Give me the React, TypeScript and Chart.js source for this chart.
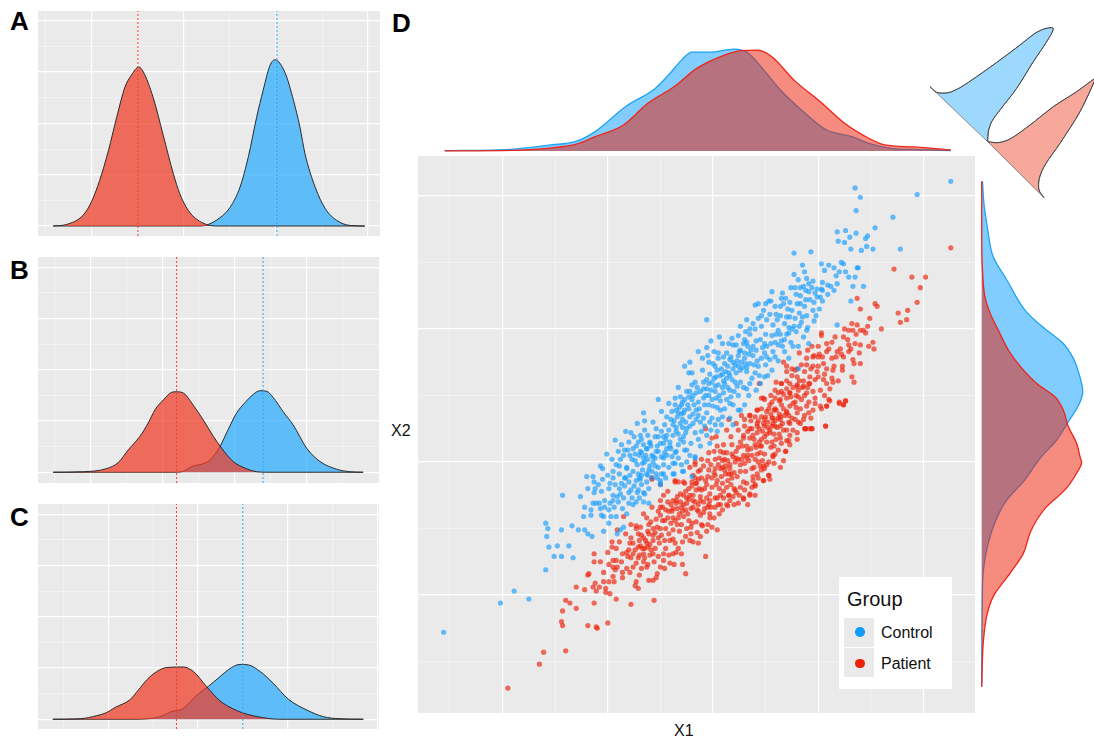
import React, { useEffect, useRef } from "react";
import { Chart, registerables } from "chart.js";

Chart.register(...registerables);

type P = [number, number];

// Panels A, B, C: density curves as [value, density]
const aPatient: P[] = [[-2.84,0],[-2.55,.003],[-2.19,.021],[-2.01,.047],[-1.83,.089],[-1.64,.147],[-1.46,.212],[-1.28,.271],[-1.14,.294],[-.98,.31],[-.88,.3],[-.67,.251],[-.45,.177],[-.23,.102],[-.09,.063],[.09,.031],[.28,.013],[.49,.003],[.71,0],[3.93,0]];
const aControl: P[] = [[-2.84,0],[.35,0],[.53,.003],[.78,.016],[1,.036],[1.22,.076],[1.4,.135],[1.58,.212],[1.72,.264],[1.87,.313],[1.98,.324],[2.2,.298],[2.38,.245],[2.52,.193],[2.63,.141],[2.85,.076],[3.07,.034],[3.32,.011],[3.61,.001],[3.93,0]];
const bPatient: P[] = [[-3.03,0],[-2.19,.001],[-1.55,.007],[-1.22,.019],[-.94,.044],[-.62,.07],[-.39,.096],[-.2,.122],[.03,.141],[.26,.156],[.4,.157],[.6,.154],[.86,.131],[1.14,.102],[1.42,.07],[1.65,.047],[1.97,.021],[2.3,.008],[2.62,.001],[2.9,0],[5.58,0]];
const bControl: P[] = [[-3.03,0],[.4,0],[.63,.003],[.81,.011],[1,.014],[1.19,.018],[1.37,.027],[1.6,.05],[1.83,.083],[2.06,.115],[2.3,.136],[2.53,.152],[2.71,.159],[2.9,.158],[3.08,.146],[3.36,.118],[3.64,.092],[4.01,.047],[4.38,.021],[4.84,.006],[5.21,.001],[5.58,0]];
const cPatient: P[] = [[-1.24,0],[-.63,.001],[-.26,.007],[-.04,.013],[.15,.023],[.48,.038],[.67,.057],[.86,.077],[1.08,.093],[1.3,.101],[1.67,.102],[1.9,.093],[2.19,.064],[2.49,.036],[2.79,.02],[3.09,.01],[3.46,.003],[3.83,0],[5.69,0]];
const cControl: P[] = [[-1.24,0],[.56,0],[1.15,.005],[1.41,.015],[1.67,.021],[1.97,.047],[2.23,.064],[2.49,.083],[2.75,.101],[2.94,.107],[3.13,.106],[3.39,.093],[3.68,.07],[4.02,.039],[4.43,.018],[4.8,.005],[5.17,.001],[5.69,0]];

const meansA = { patient: -1, control: 2.02 };
const meansB = { patient: 0.4, control: 2.8 };
const meansC = { patient: 1.52, control: 3.0 };

const aMajorX = [-2, 0, 2, 4];
const aMinorX = [-3, -1, 1, 3];
const bMajorX = [-2, 0, 2, 4];
const bMinorX = [-3, -1, 1, 3, 5];
const cMajorX = [0, 2, 4, 6];
const cMinorX = [-1, 1, 3, 5];
const densMajorY = [0, 0.1, 0.2, 0.3, 0.4];
const densMinorY = [0.05, 0.15, 0.25, 0.35];

// Panel D: marginal densities
const topControl: P[] = [[-25.5,.0002],[-19.2,.0008],[-15.4,.003],[-13.1,.0046],[-11.2,.0096],[-8.3,.022],[-5.5,.031],[-4.1,.0384],[-3,.045],[-2,.049],[-.3,.049],[2,.0505],[3.3,.0487],[4.7,.0409],[6.4,.0302],[8.95,.0178],[10.8,.0104],[13.2,.0071],[14.8,.0038],[16.9,.0013],[19.5,.0007],[22.6,.0002]];
const topPatient: P[] = [[-25.5,0],[-19.2,.0003],[-15.8,.0013],[-12.9,.0035],[-11.2,.0071],[-8.5,.0129],[-6.2,.0236],[-3.7,.0318],[-1.55,.0409],[.55,.0464],[2.65,.0497],[4.3,.05],[5.6,.0467],[7.7,.0351],[10.2,.0244],[12.5,.0137],[14.8,.0063],[16.3,.003],[19,.002],[22.6,.0005]];
// [density, X2]
const rightControl: P[] = [[.0003,21.1],[.0009,19.4],[.0022,17.7],[.0046,15.4],[.0099,13.7],[.0172,11.4],[.0238,10.2],[.0323,8.9],[.036,7.9],[.0389,6.4],[.04,5.3],[.0387,4.4],[.0339,2.9],[.0297,1.65],[.0231,.28],[.0165,-1.48],[.0099,-2.86],[.0059,-4.24],[.0026,-6.1],[.0007,-8.1],[.0003,-9.4],[0,-16.9]];
const rightPatient: P[] = [[0,21.1],[0,16.9],[.0003,14.4],[.0013,12.4],[.0033,11.2],[.0066,9.9],[.0106,8.4],[.0152,7.2],[.0218,5.9],[.029,4.9],[.0323,3.9],[.0343,2.66],[.0376,1.4],[.0393,.15],[.0396,0],[.0376,-.85],[.033,-2.1],[.0257,-3.36],[.0218,-4.36],[.0191,-5.36],[.0165,-6.87],[.0112,-8.37],[.0046,-10.1],[.0022,-11.4],[.0007,-13.4],[0,-16.9]];

// Corner shapes at the top right of panel D
const cornerControl: P[] = [[3,35.5],[5,33.8],[8.5,33.7],[12,35.2],[17,38.5],[24,43.5],[30,48],[34.5,51.5],[37.5,52.9],[40,53],[38,49],[34,43],[29,35],[24,28.5],[21.5,25],[20.5,22],[20.3,19]];
const cornerPatient: P[] = [[20.3,19],[23.5,18.7],[27,19.8],[33,24],[40,29.5],[47,34],[52.5,38],[52.5,37.5],[48,28],[42,18.5],[37.5,12],[35.8,8],[35.7,4.5],[37.2,2.2]];

const scatterMajorX = [-20, -10, 0, 10, 20];
const scatterMinorX = [-25, -15, -5, 5, 15];
const scatterMajorY = [-10, 0, 10, 20];
const scatterMinorY = [-15, -5, 5, 15];

// Scatter: [X1, X2]
const controlPoints: P[] = [
[13.5,20.6],[14,19.9],[19.4,20.1],[22.6,21.1],[13.6,18.9],[17.1,18.4],[15.4,17.6],[11.8,17.3],[12.6,17.4],[13.6,17.2],[13,16.9],[11.9,16.6],[12.5,16.5],[14.5,16.8],[14.7,17],[14.6,16.2],[13.1,16],[14.1,15.9],[15.2,16],[17.8,16],[7.7,15.7],[9.3,15.8],[8.5,14.8],[8.7,14.3],[7.7,14.1],[10.3,14.9],[11,14.8],[10.6,14.4],[11.5,14.6],[12.2,15],[12.4,14.9],[12,14.3],[11.7,14],[12.6,14.3],[13.7,14.6],[13.8,14.6],[12.9,13.9],[13.5,13.9],[13.3,13.2],[14.3,13.2],[13.1,12.1],[11.8,10.3],
[8.1,13.7],[8.9,13.8],[9.5,13.6],[10.4,13.5],[10.9,13.3],[11.2,13.2],[11.8,13.4],[8.6,13.2],[9.1,13.4],[7.4,13.1],[7.8,13.1],[8.3,13.1],[8.8,12.9],[9.4,13.1],[9.9,13],[10.4,12.9],[9.1,12.8],[9.9,12.4],[5.6,12.8],[6.6,12.7],[5.3,12.1],[5.5,12.1],[4,11.8],[4.3,11.9],[4.8,11.4],[5.9,11.7],[6.7,11.9],[7.3,12],[8,11.9],[8.3,11.9],[9.6,12],[10.4,12.1],[8.7,11.7],[10.1,11.5],[9.5,11.4],[8.9,11],[8.2,11.2],[7.3,10.9],[6.4,11],[5.4,11.1],[4.3,10.8],[3.2,10.7],[-.6,10.7],[6.8,10.4],[7.7,10.2],[8.4,10.5],[5.7,10.3],[6.2,9.9],[7,9.6],[7.9,9.8],[8.6,9.4],[4.6,10.2],[3.5,10],[2.6,10.2],[5,9.6],[9.1,8.9],[8.1,7],
[-25.6,-12.8],[-20.2,-10.6],[-18.9,-9.7],[-17.5,-10.3],[-15.9,-8.1],[-15.1,-7.1],[-14.4,-7.1],[-13.3,-7.2],[-15.6,-6.4],[-14.8,-6.3],[-13.7,-6.3],[-15.8,-5.6],[-15.7,-5],[-15.9,-4.6],[-14.4,-5.1],[-13.4,-4.8],[-12.8,-5.1],[-12.2,-5.1],[-11.9,-5.4],[-11.5,-5.6],[-10.4,-5.2],[-14.3,-2.5],[-12.6,-2.6],[-11.9,-2],[-12.3,-4.1],[-12.2,-3.4],[-11.6,-3.6],[-11.6,-4],[-11.4,-3.1],[-11.1,-3.1],[-10.8,-3.1],[-10.7,-3.5],[-10.6,-4],[-10.4,-4.1],[-10.3,-3.4],[-9.9,-3.6],[-9.7,-4.1],[-9.9,-4.6],[-9.2,-4.1],[-8.5,-4.9],[-8.8,-5.1],[-9.1,-5.4],[-11.3,-1.5],[-11.3,-2.3],[-11.2,-2],[-10.6,-2.2],[-9.9,-2],[-11.4,-1.1],[-10.7,-.3],[-10.5,-.5],[-10,-1],[-9.5,-.7],[-9.5,-1.2],[-10.3,-2.9],[-9.8,-3.1],[-9.5,-2.9],[-9,-3],[-9.5,-2.5],[-9.1,-2.6],[-8.8,-2.4],[-8.5,-2.7],[-8,-2.3],[-8,-3.1],[-7.6,-3.2],[-7,-2.7],[-7.1,-2.1],[-6.6,-3],[-6.6,-2.3],[-6.1,-2],[-8.7,-1.6],[-8.4,-1.8],[-8,-1.5],[-8.3,-1.2],[-7.9,-1],[-7.6,-.7],[-7.3,-1.4],[-6.8,-1.7],[-7.1,-.9],[-6.7,-.6],[-6.3,-.9],[-5.8,-.7],[-5.4,-.9],[-5,-1.4],[-5,-1.7],[-4.7,-.9],[-8.8,.2],[-9.2,-.2],[-8.7,1.3],[-9.3,1.65],[-8,1.5],[-8.5,.5],[-7.9,.5],[-7.3,1.2],[-6.8,.7],[-6.3,1],[-5.7,.4],[-5.2,.8],[-4.4,.5],[-3.8,-.1],[-2.9,-.7],[-3.7,-.9],[-2.5,0],[-3.5,.8],[-2.5,.9],[-1.7,.4],[-2.8,1.5],[-4.7,1.4],[-4.1,1.2],[-6,1.4],
[-1.4,8.3],[-2.2,7.5],[-2.7,7.2],[-.4,7.5],[-1,6.9],[-2.3,6.7],[-2,6.7],[-1.7,6],[-3.3,5.6],[-2.5,5.3],[-2.2,5.3],[-5.2,4.7],[-3.6,4.8],[-3.1,4.9],[-4.2,4.4],[-3.6,4.3],[-6.6,3.7],[-4.9,3.8],[-4.4,3.4],[-6.5,3.1],[-5.7,3],[-6.5,2.4],[-5.4,2.5],[.9,8.9],[1.5,8.9],[2.4,9.5],[3.5,9.6],[5.6,9.5],[6.4,9.6],[7.2,9.7],[7.6,8.7],[8.1,8.7],[6.8,8.3],[7.2,7.8],[.5,8.2],[.5,7.8],[1.9,8.8],[2.6,8.4],[3.2,9],[3.8,8.7],[4.5,9.2],[5.1,8.7],[5.7,8.3],[5.4,7.7],[4.3,7.2],[3.5,7.4],[2.7,7.5],[1.9,7],[1.1,7.4],[.2,7.2],[.7,6.5],[1.5,6.7],[2.2,6.7],[3.2,6.8],[4,6.7],[4.6,7.8],[4.9,8.2],[6.2,8.8],[3.8,8],[3,8.2],[2.4,8],[-.1,6],[.5,5.8],[-.6,6.2],[1.1,5.9],[1.8,6.2],[2.6,6],[3.5,5.9],[4.5,5.9],[3.2,5.5],[2.4,5],[1.6,5.4],[1,5.2],[.2,5.3],[-.6,5.5],[-1.2,5.3],[-.9,4.8],[-.1,4.7],[.7,4.6],[1.3,4.7],[1.9,4.3],[3,4.3],[2.6,3.9],[1.1,4],[.7,3.9],[0,4.2],[-.8,4.3],[-1.4,4.5],[-2,4.7],[-2.7,4.7],[-3,4.3],[-2.3,4],[-1.6,3.9],[-.6,3.7],[-.1,3.3],[.5,3.2],[.2,2.8],[.8,2.8],[-.8,2.7],[-1.6,3.2],[-2.2,3.4],[-2.8,3.7],[-3.4,3.4],[-3.9,3.8],[-3.8,2.8],[-3.1,2.9],[-2.5,2.5],[-1.9,2.9],[-1.7,2.2],[-2.8,1.9],[-3.5,2.3],[-4.2,2.4],[-4.7,1.9],[-4.1,1.5],[-3.3,1.3],[-2.7,.9],[-3.6,.7],[-4.4,1],[-5,1.4],[-5.5,1.9],[-6,1.5],[-6.8,1.7],[-6.3,1],[-5.4,.8],[-4.7,.3],[-5.7,0],[-6.5,0],[-6.9,.8],[-3.6,-.1],[-4.9,-.9],[-6.1,-.6],[-6.8,-1],[-4.7,-.2],[-2.8,-.7],[-3.8,-.9],[-5,-1.6],[-2,-1.1],[-1.7,.3],[-.3,1.4],[1.9,2.8],[2.4,3.9],
[-.4,5],[.1,6.3],[-1.3,4],[-1.9,5],[1.6,7.7],[.9,5.6],[-.9,3.3],[-2.6,3],[-3.3,2.1],[-4.5,1.7],[-3.9,.4],[-5.2,-.4],[-6.2,.2],[-7.4,.1],[-6.9,-1.3],[4.1,8.4],[3.2,7.1],[2.1,6],[1.3,6.3],[.4,4.1],[-.3,3],[-1.1,2.3],[-2.1,1.4],[-3,3.6],[-1.8,4.3],[-.7,5],[5,7.3],[5.9,9],[6.8,9.2],[7.8,10.8],[8.8,12.2],[6.1,10.7],[4.9,8.9],[2.9,8.9],[3.6,8.4],
[2.1,7.3],[1.7,7.9],[2.6,6.9],[3,7.8],[1.2,6.8],[.8,7],[2.4,7.2],[3.4,8.1],[4.2,7.6],[.3,6.4],[-.3,6.6],[1,6.1],[-.9,6],[-1.5,5.6],[-2,5.8],[-.2,5.4],[.6,5],[1.4,5.6],[2,5.3],[2.9,5.6],[3.7,6.3],[4.4,6.5],[5.1,7.9],[5.5,8.9],[6.5,9.1],[-2.9,3.2],[-3.3,3.7],[-3.7,3.1],[-2.4,4.3],[-1.9,3.6],[-1.2,3],[-2.6,2.2],[-3.1,1.7],[-3.8,2],[-4.4,2],[-4.9,2.3],[-5.3,1.2],[-4,1],[-4.6,.7],[-5.8,.5],[-6.4,.5],[-7.2,-.2],[-7.7,.2],[-8.2,-.4],[-7.5,-1.8],[-7,-1.2],[-6.3,-1.5],[-5.8,-1.2],[-5.5,-.3],[-6.7,-.1],[-8.4,.9],[-9,.8],[-8.9,-.9],[-9.6,.2],[-10.1,.6],[-7.5,1.9],[-6.9,2],[-7.2,2.9],[-6.2,2],[-7.8,2.2],[-8.3,2.3],[-7,.5],[6,9.6],[7.2,10.1],[7.5,11.4],[8.5,10.9],[9,10.1],[9.8,11],[6.4,11.7],[6.9,12.3],[7.9,12.6],[9.2,12.2],[8.3,12.5],[10.3,13],[9.7,12.7],[5.1,10.7],[4.1,9.1],[3.1,9.8],[4,10],[1.8,9.3],[2.2,8.8],[.1,8.3],[-.5,8],[-1,7.8],[1.3,8.2],[0,7.4],[-9.8,-1.6],[-10.5,-1.3],[-8.9,-2],[-8.2,-.5],[-7.8,-2.1],[-7.3,-3],[-6.1,-3.1],[-9.4,-3.4],[-8.6,-3.5],[-8.2,-3.9],[-10.9,-1.7],[-12,-1.1],
[2.3,7.6],[2.8,7.1],[1.4,7.2],[1.9,7.5],[2.5,8.3],[3.1,7.4],[1.6,6.5],[.9,6.6],[.4,6.9],[3.9,7.3],[4.7,8.6],[3.3,8.7],[1,7.9],[.2,5.7],[-.4,5.9],[-.9,5.5],[-1.6,5.2],[-2.3,4.9],[-2.9,4.5],[-3.2,4.1],[-2.7,3.9],[-3.5,3.9],[-4,3.2],[-4.6,2.8],[-3.5,2.6],[-2.9,2.6],[-2.2,2.7],[-1.4,3.5],[-.4,4.3],[.3,4.8],[1.7,4.9],[1.6,4.4],[2.3,5.7],[-5.2,1.9],[-5.9,1.2],[-6.6,1.3],[-7.1,1.5],[-7.6,1],[-8.1,.9],[-7.4,.6],[-6.6,.3],[-6,-.3],[-5.5,.3],[-4.9,.4],[-4.2,-.4],[-4.5,-1.2],[-6.5,-2.4],[-7.2,-2.3],[-8.4,-1.2],[-8.9,-.3],[-9.3,-1.7],[-7.7,-2.7],[-6.2,-1],[-5.3,-1.2],[-3.3,.3],[-3,-.2],[-2.2,.5],[-1.2,1.2],[-.6,2],[.4,2.3],[.9,3.4],[1.6,3.3],[-.2,2.4],[-1.4,1.7],[3.4,5],[4.1,5.4],[4.9,6.4],[5.6,6.9],[6.2,7.6],[6.6,8.7],[7.4,9],[5.2,6.5],[5.9,7.9],[7,10.9],[7.5,10],[8.2,10.2],[8.9,9.9],[9.6,10.6],[10.2,12.4],[10.9,12.6],[11.5,12.9],[6,11.1],[6.5,12.3],[7.1,11.5],[5,11.9],[4.6,11],[3.8,10.4],[3,9.2],[.6,9.4],[-.2,9.1],[-.6,8.6]
];

const patientPoints: P[] = [
[-19.5,-17],[-16.5,-15.2],[-16.1,-14.3],[-14,-14.2],[-14.4,-12],[-14.3,-12.3],[-14.3,-11.2],[-14,-10.4],[-13.6,-10.6],[-13,-11],[-11.9,-12.3],[-11.1,-12.4],[-11,-12.5],[-10,-12.1],[-11.3,-10.6],[-9.2,-10.3],[-7.8,-10.7],[-5.6,-10.4],[-13,-9.4],[-12.2,-9.6],[-11.4,-9.4],[-11.1,-9.7],[-10.8,-9.4],[-10.2,-9.5],[-10.2,-9.8],[-9.8,-9.9],[-11.2,-9.1],[-10.4,-9],[-9.9,-9],[-9.4,-9],[-9.5,-8.6],[-11.9,-8.5],[-11.8,-8.4],[-11.3,-7.5],[-10.7,-7.5],[-11.3,-6.9],[-9.5,-7.9],[-9.3,-8.1],[-9.1,-7.9],[-8.6,-8.3],[-8.6,-8.7],[-7.9,-8.3],[-7.6,-7.9],[-7.4,-9.3],[-7.1,-9.5],[-7.3,-9],[-7,-8.5],[-6.1,-8.9],[-5.7,-8.9],[-5.3,-8.4],[-5.4,-8.7],[-4.6,-8],[-5,-7.9],[-2.9,-7.7],[-2.6,-8.4],[-3,-6.9],[-10,-6.8],[-9.6,-6],[-9.6,-6.4],[-9.2,-6.5],[-9.5,-7.4],[-9.2,-7.4],[-8.6,-6.9],[-8.2,-6.8],[-7.9,-6.1],[-7.6,-6.1],[-8.1,-7.1],[-7.8,-7.2],[-7.1,-6.4],[-7.1,-7.2],[-7.6,-6.9],[-6.8,-5.5],[-6.6,-5.7],[-6.3,-6.1],[-6.5,-6.5],[-6.6,-6.9],[-6.5,-7.2],[-6.2,-6.4],[-6.6,-7.5],[-6.8,-8],[-6.3,-7.9],[-5.7,-5.9],[-5.1,-6.1],[-5.7,-6.9],[-5.2,-7.1],[-5.6,-7.5],[-4.7,-6.9],[-4.2,-7],[-3.8,-6.9],[-7.8,-4.7],[-7.3,-4.8],[-7.3,-5],[-5.9,-4.5],[-6.1,-4.7],[-5.7,-5],[-5,-5],[-4.6,-4.4],[-4.2,-5.4],[-3.8,-5.1],[-3.8,-5.8],[-4.6,-5.9],[-4.1,-5.9],[-3.6,-6.1],[-2.6,-5.6],[-2.2,-5.9],[-1.9,-6],[-1.4,-6.1],[-8.5,-4.1],[-6.6,-3.9],[-5.2,-3.7],[-4.8,-3.4],[-5,-2.9],[-4.3,-2.2],[-3.6,-1.5],[-5.8,-1.3],[-4.2,-3.7],[-3.8,-3.5],[-3.5,-3.1],[-3,-3.4],[-2.5,-3.1],[-3.8,-4.2],[-3.3,-4.2],[-2.8,-4.1],[-2.3,-4.4],[-2,-4.6],[-2.5,-5],[-1.6,-4.5],[-1.4,-3.7],[-1.9,-3.4],[-1.2,-2.9],[-2.8,-2.5],[-2.2,-2.5],[-1.6,-2.1],[-3.3,-1.5],[-2.7,-1.6],[-2,-1.5],[-1.6,-1.6],[-2.2,-.4],[-1.7,0],[-1.9,-1],
[-.7,-7.1],[.4,-5.1],[-.1,-4.9],[-.5,-4.7],[-1.1,-4.7],[-.3,-4.2],[-.3,-3.9],[-.9,-3.8],[-1.2,-4],[-1.2,-5.6],[.2,-3.4],[-.5,-3.4],[.7,-3.2],[1.4,-3.3],[3.3,-3.2],[2.9,-2.8],[3.5,-2.4],[4,-2.5],[3.7,-1.9],[4,-1.8],[2.6,-1.9],[2.2,-2.3],[2,-2],[1.5,-2.5],[1,-2.7],[.4,-2.7],[-.3,-2.9],[-.9,-3],[4.8,-1.4],[5.4,-1.3],[5.3,-1],[4.9,-.5],[4.8,-.3],[4.2,-.9],[6.7,.1],[5.3,0],[5.7,.5],[6.9,.8],[7.3,1.3],[8,1.7],[8,2.2],[8.8,2.5],[9.4,2.5],[10.7,2.7],[7.2,1.6],[7.3,2],[8.1,3],[8.3,2.9],[9.1,3.7],[9.7,4.4],[10.3,4],[10.8,4.2],[12,4.4],[12.4,4.3],[12.6,4.6],[11.1,4.6],
[22.6,16.1],[17.2,14.5],[18.9,13.9],[20.2,13.9],[19.7,13.1],[19.4,12],[18.5,11.4],[17.6,11.2],[18.4,10.7],[17.8,10.5],[16,10],[14.9,10.8],[13.7,12.3],[14,11.5],[15.4,11.9],[15.6,11.7],[13.2,10.4],[13.7,10.3],[14.7,10.2],[14.3,9.9],[14,9.9],[14.5,9.7],[12.9,9.9],[12.5,10],[13.3,9.9],[10.3,9.7],[10.3,9.5],[12.4,9.4],[12.8,9.2],[13.5,8.9],[14,8.8],[15.2,9],[14.8,8.7],[15.3,8.5],[13.9,8.2],[13.1,8.5],[12.9,8.3],[12.4,7.9],[11.3,7.8],[11.8,8.3],[12.1,8.5],[11.3,9],[10.8,8.9],[11,8.5],[10,8.7],[9.4,8.7],[10.8,8.3],[9.6,8],[10,7.9],[13.3,7.7],[13.4,7.4],[14,7.4],[12.3,7.2],[12.3,6.9],[13.2,6.4],[13.4,6],[11.9,6.1],[11.4,6.9],[11.3,6.3],[10.5,7.4],[10,7.2],[9.9,6.8],[10.8,7],[8.9,7.8],[8.4,7.3],[8,7],[6.7,7.5],[7,7.2],[7,6.8],[7.5,6.5],[8,6.4],[8.7,6.8],[9.2,6.4],[9.7,6.2],[9.2,5.9],[10.5,6.2],[10.8,5.9],[11.4,6],[8.6,5.7],[8,5.8],[7.3,5.9],[6.5,5.9],[5.9,5.4],[6.5,5.3],[7.3,5.2],[8.1,5.4],[8.9,5.2],[9.5,5.3],[10.2,5.4],[11.1,5.5],[10.6,5],[9.7,4.8],[11,4.7],[9.1,4.5],[8.4,4.7],[7.8,4.5],[7,4.8],[6.4,4.7],[4.8,4.8],[4.4,5.9],[5.4,4.3],[5.9,4],[6.7,4],[7.3,4.2],[8.3,4],[8.9,4.2],[9.5,3.9],[10.2,4.2],[10.8,4.2],[12,4.5],[12.6,4.6],[12.4,4.3],[10.7,2.7],[9.2,2.5],[8.8,2.5],[7.8,3.2],[7,3.7],[6.4,3.4],[5.7,3.3],[5.1,3.8],[4.6,4],[4.2,3.9],[4,3.4],[3.5,3.5],[4.8,2.9],[5.6,2.7],[6.4,2.7],[7,2.4],[7.3,2.9],[4.2,2.7],[3.5,2.5],[2.9,1.8],
[7.8,6.9],[8.9,7.3],[9.5,7.2],[9.1,5.9],[8,5.7],[6.5,5.9],[7,5.5],[6.2,5.2],[5.9,4.8],[7.3,5.2],[8.1,4.9],[8.7,5],[5.6,4.5],[4.9,4.7],[4.6,4.8],[5.3,4],[6,3.9],[7,3.8],[8,3.7],[4.2,3.9],[3.5,3.5],[4.6,3.4],[5.6,3.3],[6.4,3.2],[7.2,3],[4.2,2.9],[4.9,2.7],[5.9,2.7],[6.7,2.4],[8.7,2.5],[9.4,2.5],[3.7,2.5],[3,3.2],[1.5,3.2],[2.2,2.9],[1.3,2.4],[-.7,2.5],[-.1,1.8],[.3,1.9],[2.9,2],[3.5,1.8],[4.2,2.2],[4.9,1.9],[5.6,1.5],[6.4,1.8],[2.6,1.5],[1.8,1.3],[1,1.3],[3.2,1.2],[4,1.3],[4.6,1.2],[2.2,.8],[2.9,.5],[3.7,.5],[5.7,.4],[6.9,.8],[4.3,0],[5.1,-.2],[1.3,.7],[.7,.8],[-.4,.7],[-1.1,.2],[-1.7,-.2],[.2,.2],[1.1,.2],[2.1,0],[3,-.1],[3.7,-.5],[4.6,-.6],[5.3,-1],[4.8,-1.4],[3.8,-1.1],[2.6,-.7],[1.6,-.5],[.7,-.5],[-.4,-.6],[-1.4,-.7],[-1.1,-1.2],[-.1,-1.2],[.8,-1.1],[1.8,-1.2],[2.9,-1.5],[4,-1.7],[3.5,-2.5],[2.9,-2.7],[2.1,-2.1],[1.3,-1.9],[.3,-1.7],[-.6,-1.7],[-1.6,-1.6],[-2.8,-1.5],[-3.6,-1.4],[-2.3,-2],[-3.1,-2.4],[-1.9,-2.5],[-1.2,-2.6],[-.3,-2.4],[.7,-2.5],[1.5,-2.5],[-.4,-3.2],[.5,-3.2],[1.3,-3.2],[-1.4,-3.2],[-2.5,-2.7],[-3.8,-2.9],[-4.7,-2.5],[-5,-3.4],[-5.8,-3.4],[-5.8,-1.2],[-5,-1.7],
[1.9,.4],[2.4,1.1],[3.3,.9],[3.9,1.7],[4.4,2.5],[5.2,3],[5.4,2.2],[6.1,2.6],[2.7,.2],[1.2,-.9],[.4,-1.4],[-.8,-2],[-1.9,-2.9],[-2.9,-3.7],[-3.4,-2.6],[-4.3,-3],[-6.1,-5.4],[-5.4,-4.3],[-6.9,-6.3],[-7.3,-7.6],[.1,-.8],[1.4,-1.4],[2.3,-1.1],[3.4,.1],[4.5,.7],[5.8,1.2],[6.3,3.6],[7.6,4.4],[8.6,6.1],[6.7,5.1],
[5.4,2.4],[5.1,1.5],[5.9,3.1],[6.3,2.1],[4.7,2.3],[4.4,1.5],[6.8,3.5],[7.2,3.5],[5.8,3.9],[5,3.4],[4.2,.6],[3.6,1],[3.2,.3],[2.4,.2],[1.6,-.2],[1.1,-.6],[2,-.8],[1.4,.1],[.5,-.2],[.2,-1],[.9,-1.6],[1.7,-1.7],[-.5,-1.1],[-.9,-.3],[-1.4,-1.3],[-2,-1.8],[-2.6,-2.2],[-3.1,-3],[-3.4,-3.5],[-3.9,-3.7],[-2.8,-3.2],[-2.1,-3.5],[-1.5,-3.6],[-1.1,-2.1],[-.6,-2.7],[-3.6,-4.4],[-4.3,-4.2],[-4.8,-4.4],[-5.3,-4.9],[-5.7,-5.5],[-6,-6.2],[-6.4,-5.9],[-5.5,-6.5],[-5.9,-6.6],[-4.9,-5.5],[-4.5,-6.5],[-3.2,-5.2],[-3,-4.7],[-7.1,-5.4],[-7.8,-5.7],[-8.3,-5.4],[-8.9,-6],[-9.1,-5.1],[-6.9,-4.9],[-6.3,-4.2],[-7,-7],[-4.1,-7.6],[-3.3,-6.5],[-2.1,-4.9],[-1,-4.8],[-.2,-3.4],[.9,-3.6],[2,-3.2],[2.5,-2.5],[3.2,-1.6],[3.9,-.4],[4.7,.1],[5.8,-.1],[6.2,.9],[7,1.6],[7.6,2.4],[8.6,3.2],[9.3,3.3],[8.7,3.5],[7.4,4.9],[6,6],[5.5,5],[7.5,7],[8.2,6.1],[9.3,7],[10.1,8.1],[11.5,7.2],[12.2,8.1],[10.4,7.9],[.1,.8],[.9,.1],[-.1,-1.9],[.6,-2],[1.9,-2.6],[3.1,-.7],[4.3,-1.2],[4.1,1.1],[4.9,.6],[5.5,1.1],[6.6,2.9],[6,1.7],[3,2.7],[2.4,2.4],[1.7,1.9],[1,.7],[.4,1.2],[-.5,.1],[-1.2,-.6],[3.6,3.1],[2.7,3.5],
[5.7,2.9],[5.2,2.6],[4.9,3.2],[5.5,3.6],[6.2,3.3],[6.5,4.3],[5.1,2.1],[4.6,1.7],[5.8,2.1],[3.8,2],[4.3,3.1],[3.3,2.3],[2.8,1.2],[2.2,.3],[1.8,.6],[1.2,-.3],[1.5,-.9],[.9,-.4],[.6,.3],[.2,-.5],[-.2,-.2],[-.7,-1.4],[-1.3,-2],[-1.7,-1.2],[-2.3,-2.8],[-2.6,-3.6],[-3.2,-3.9],[-3.5,-2.9],[-4,-3.2],[-4.5,-3.6],[-4,-4.6],[-5,-4],[-5.5,-5.3],[-6.2,-5.2],[-6.7,-6.5],[-6,-7],[-5.2,-5.7],[-4.5,-5],[-3.4,-4.7],[-2.4,-3.9],[-1.7,-3],[-.8,-3.5],[.2,-2.7],[1,-2.2],[1.7,-.9],[2.6,-.2],[3.3,.5],[4,.2],[4.5,1.2],[6.5,1.4],[7.5,3.3],[7.9,5],[8.5,5.6],[7,6.1],[6.3,4.6],[7.9,4.1],[9,5.6],[10,6.4],[10.6,6.6],[9.5,7.9],[11.7,7.9],[12.9,8.8],[11.6,9.4],[13.6,9.6],[8.2,8.2],[9,8.4],[7.6,5.6],[-8,-6.6],[-8.7,-7.5],[-9.9,-7.7],[-10.4,-8.3],[-8.2,-8],[-7.4,-6.6],[-7,-5.9],[-6.2,-7.7],[-4.7,-7.4],[-3.7,-7.7],[-3.5,-6.8],[-2.9,-6],[-2.1,-5.4],[-1.5,-5.3],[-.6,-5.2],[.1,-4.2],[.6,-3.9],[1.6,-2.9],[2.4,-3.1],[3,-2.1],[3.8,-1.4],[4.5,-.3],[6.4,-.4],[5.9,.6]
];

// Legend and panel labels
const legendTitle = "Group";
const legendLabels = ["Control", "Patient"];
const panelLabels: [string, number, number][] = [["A", 10, 6], ["B", 10, 255], ["C", 10, 502], ["D", 392, 8]];

const RED_SOLID = "rgba(240,58,37,0.72)";
const BLUE_SOLID = "rgba(40,170,253,0.72)";
const RED_SOFT = "rgba(235,25,0,0.5)";
const BLUE_SOFT = "rgba(5,155,255,0.5)";
const LINE_DARK = "#2a2a2a";
const FONT = '"Liberation Sans", Arial, sans-serif';

const pts = (a: P[]) => a.map(([x, y]) => ({ x, y }));

function gridAxis(min: number, max: number, major: number[], minor: number[]) {
  return {
    type: "linear",
    min,
    max,
    afterBuildTicks: (s: any) => {
      s.ticks = [...minor, ...major].map((value) => ({ value }));
    },
    ticks: { display: false },
    border: { display: false },
    grid: {
      drawTicks: false,
      color: (c: any) => (major.includes(c.tick?.value) ? "#ffffff" : "rgba(255,255,255,0.5)"),
      lineWidth: (c: any) => (major.includes(c.tick?.value) ? 1.2 : 0.8),
    },
  };
}

const hidden = (min: number, max: number) => ({ type: "linear", min, max, display: false });

const base = {
  responsive: false,
  animation: false,
  maintainAspectRatio: false,
  layout: { padding: 0, autoPadding: false },
  plugins: { legend: { display: false }, tooltip: { enabled: false } },
};

function densityConfig(patient: P[], control: P[], means: { patient: number; control: number }, xMin: number, xMax: number, majorX: number[], minorX: number[], yMin: number, yMax: number) {
  const curve = (d: P[], bg: string) => ({
    data: pts(d), showLine: true, fill: "origin", backgroundColor: bg, borderColor: LINE_DARK, borderWidth: 1,
    pointRadius: 0, cubicInterpolationMode: "monotone",
  });
  const mean = (v: number, color: string) => ({
    data: [{ x: v, y: yMin }, { x: v, y: yMax }], showLine: true, fill: false, borderColor: color, borderWidth: 1,
    borderDash: [2, 2], pointRadius: 0,
  });
  return {
    type: "scatter",
    data: { datasets: [mean(means.patient, "#f4402c"), mean(means.control, "#27a9f5"), curve(patient, RED_SOLID), curve(control, BLUE_SOLID)] },
    options: { ...base, scales: { x: gridAxis(xMin, xMax, majorX, minorX), y: gridAxis(yMin, yMax, densMajorY, densMinorY) } },
  };
}

const softCurve = (d: P[], bg: string, line: string) => ({
  data: pts(d), fill: "origin", backgroundColor: bg, borderColor: line, borderWidth: 1.3, pointRadius: 0, cubicInterpolationMode: "monotone",
});

const closedFill = {
  id: "closedFill",
  beforeDatasetDraw(chart: any, args: any) {
    const meta = chart.getDatasetMeta(args.index);
    const ds = chart.data.datasets[args.index];
    const ctx = chart.ctx;
    ctx.save();
    ctx.beginPath();
    meta.dataset.path(ctx);
    ctx.closePath();
    ctx.fillStyle = ds.areaColor;
    ctx.fill();
    ctx.strokeStyle = "#8a8a8a";
    ctx.lineWidth = 1;
    ctx.stroke();
    ctx.restore();
  },
};

const corner = (d: P[], c: string) => ({
  data: pts(d), showLine: true, fill: false, areaColor: c, borderColor: "#444", borderWidth: 1, pointRadius: 0, tension: 0.3,
});

const configs: { left: number; top: number; width: number; height: number; bg?: string; config: any }[] = [
  { left: 38, top: 11, width: 342, height: 225, bg: "#EAEAEA", config: densityConfig(aPatient, aControl, meansA, -3.17, 4.26, aMajorX, aMinorX, -0.0195, 0.419) },
  { left: 38, top: 257, width: 341, height: 226, bg: "#EAEAEA", config: densityConfig(bPatient, bControl, meansB, -3.45, 6.02, bMajorX, bMinorX, -0.021, 0.42) },
  { left: 38, top: 504, width: 341, height: 225, bg: "#EAEAEA", config: densityConfig(cPatient, cControl, meansC, -1.57, 6.04, cMajorX, cMinorX, -0.019, 0.42) },
  {
    left: 418, top: 156, width: 557, height: 557, bg: "#EAEAEA",
    config: {
      type: "scatter",
      data: {
        datasets: [
          { data: pts(controlPoints), backgroundColor: "rgba(25,158,255,0.66)", borderWidth: 0, pointRadius: 2.6 },
          { data: pts(patientPoints), backgroundColor: "rgba(238,35,12,0.66)", borderWidth: 0, pointRadius: 2.6 },
        ],
      },
      options: { ...base, scales: { x: gridAxis(-28.04, 24.9, scatterMajorX, scatterMinorX), y: gridAxis(-18.87, 23, scatterMajorY, scatterMinorY) } },
    },
  },
  {
    left: 418, top: 45, width: 557, height: 110,
    config: {
      type: "line",
      data: { datasets: [softCurve(topPatient, RED_SOFT, "#ee2418"), softCurve(topControl, BLUE_SOFT, "#1fa3f3")] },
      options: { ...base, scales: { x: hidden(-28.04, 24.9), y: hidden(-0.002, 0.0525) } },
    },
  },
  {
    left: 976, top: 156, width: 118, height: 557,
    config: {
      type: "line",
      data: { datasets: [softCurve(rightPatient, RED_SOFT, "#ee2418"), softCurve(rightControl, BLUE_SOFT, "#1fa3f3")] },
      options: { ...base, indexAxis: "y", scales: { x: hidden(-0.00226, 0.04448), y: hidden(-18.87, 23) } },
    },
  },
  {
    left: 920, top: 15, width: 174, height: 190,
    config: {
      type: "scatter",
      data: { datasets: [corner(cornerControl, "#9dd8ff"), corner(cornerPatient, "#f7a89b")] },
      options: { ...base, scales: { x: hidden(0, 52.2), y: hidden(0, 57) } },
      plugins: [closedFill],
    },
  },
];

function Panel({ left, top, width, height, bg, config }: any) {
  const ref = useRef<HTMLCanvasElement>(null);
  useEffect(() => {
    const chart = new Chart(ref.current as any, config);
    return () => chart.destroy();
  }, [config]);
  return (
    <canvas
      ref={ref}
      width={width}
      height={height}
      style={{ position: "absolute", left, top, width, height, background: bg || "transparent" }}
    />
  );
}

const text = (left: number, top: number, size: number, extra: any = {}): any => ({
  position: "absolute", left, top, fontSize: size, lineHeight: `${size + 4}px`, fontFamily: FONT, color: "#111", whiteSpace: "nowrap", ...extra,
});

export default function App() {
  return (
    <div style={{ position: "absolute", left: 0, top: 0, width: 1094, height: 740, background: "#fff", overflow: "hidden" }}>
      {configs.map((c, i) => <Panel key={i} {...c} />)}
      {panelLabels.map(([t, l, tp]) => (
        <div key={t} style={text(l, tp, 26, { fontWeight: 700, color: "#000" })}>{t}</div>
      ))}
      <div style={text(391, 421, 16)}>X2</div>
      <div style={text(674, 721, 16)}>X1</div>
      <div style={{ position: "absolute", left: 839, top: 577, width: 113, height: 112, background: "#fff" }} />
      <div style={text(847, 587, 20)}>{legendTitle}</div>
      {legendLabels.map((label, i) => (
        <React.Fragment key={label}>
          <div style={{ position: "absolute", left: 844, top: 617.5 + i * 30, width: 30, height: 29.5, background: "#EAEAEA" }} />
          <div style={{ position: "absolute", left: 855, top: 627 + i * 31.5, width: 9.5, height: 9.5, borderRadius: "50%", background: i === 0 ? "#119bff" : "#ee2008" }} />
          <div style={text(881, 623 + i * 31, 16)}>{label}</div>
        </React.Fragment>
      ))}
    </div>
  );
}
